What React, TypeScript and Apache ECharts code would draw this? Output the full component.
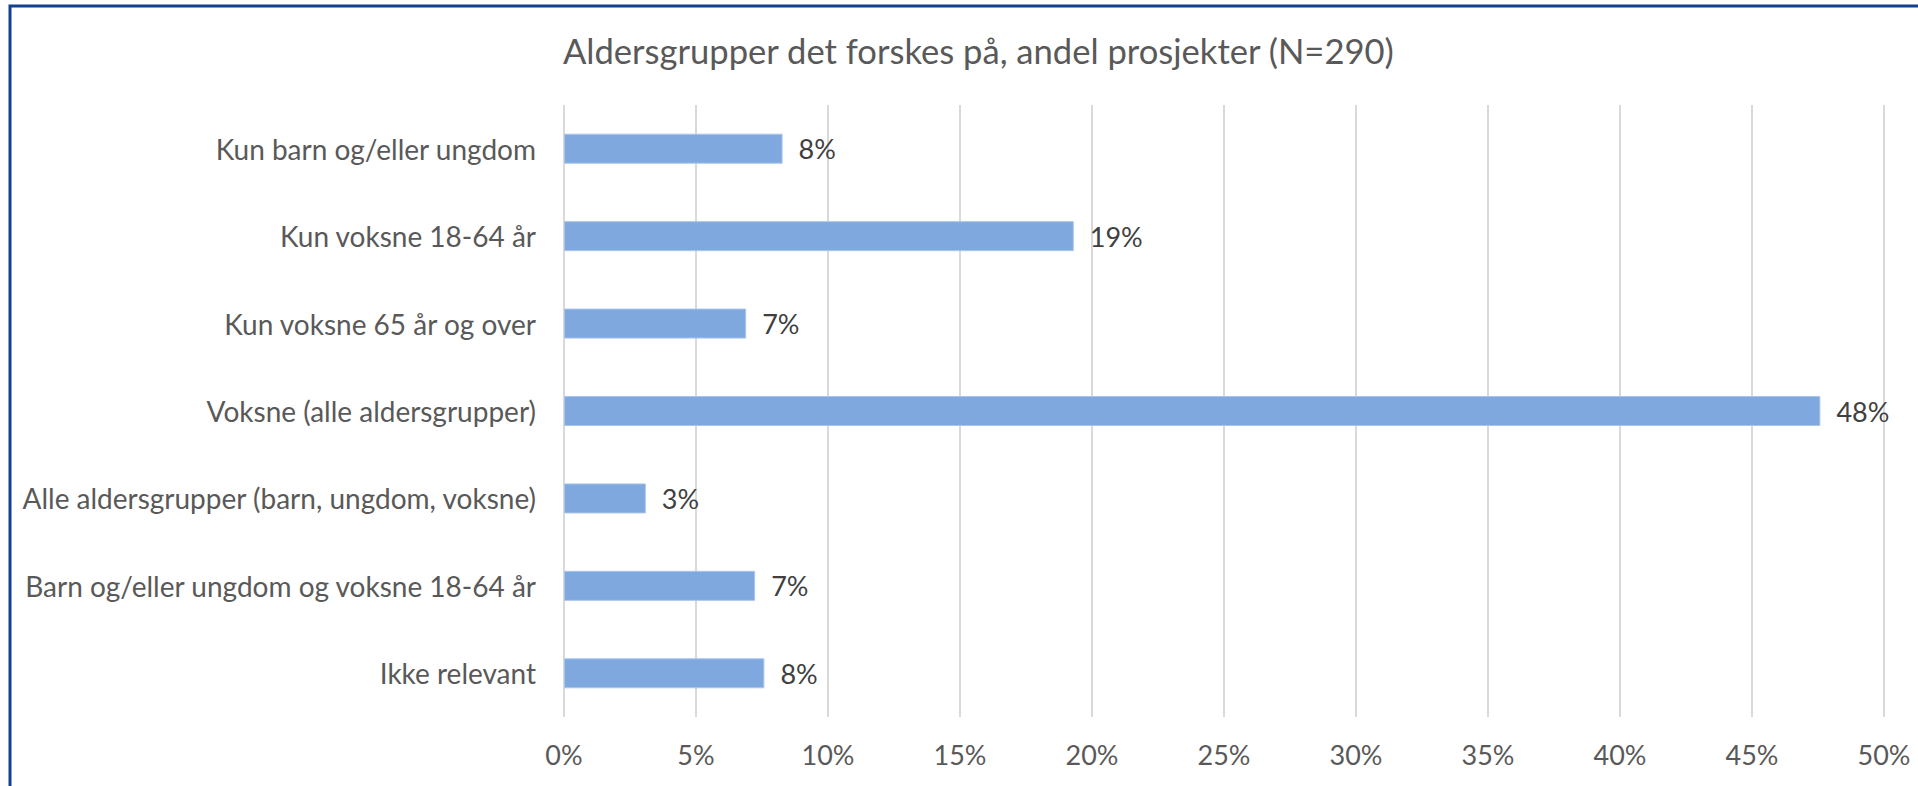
import React, { useEffect, useRef } from "react";
import * as echarts from "echarts";

const titleText = "Aldersgrupper det forskes på, andel prosjekter (N=290)";
const categories = [
  "Kun barn og/eller ungdom",
  "Kun voksne 18-64 år",
  "Kun voksne 65 år og over",
  "Voksne (alle aldersgrupper)",
  "Alle aldersgrupper (barn, ungdom, voksne)",
  "Barn og/eller ungdom og voksne 18-64 år",
  "Ikke relevant",
];
const values = [8.28, 19.31, 6.9, 47.59, 3.1, 7.24, 7.59];
const xTicks = [0, 5, 10, 15, 20, 25, 30, 35, 40, 45, 50];

const FONT = "Lato";

export default function App() {
  const ref = useRef<HTMLDivElement>(null);
  useEffect(() => {
    const chart = echarts.init(ref.current!, null, { renderer: "svg" });
    chart.setOption({
      animation: false,
      backgroundColor: "#ffffff",
      textStyle: { fontFamily: FONT },
      title: {
        text: titleText,
        left: 558,
        top: 28,
        textStyle: { fontFamily: FONT, fontSize: 34.6, fontWeight: "normal", color: "#595959" },
      },
      grid: { left: 564, right: 34, top: 105, bottom: 69, containLabel: false },
      xAxis: {
        type: "value",
        min: xTicks[0],
        max: xTicks[xTicks.length - 1],
        interval: 5,
        axisLine: { show: false },
        axisTick: { show: false },
        splitLine: { lineStyle: { color: "#D9D9D9", width: 2 } },
        axisLabel: {
          formatter: (v: number) => `${v}%`,
          color: "#595959",
          fontSize: 27,
          fontFamily: FONT,
          margin: 24,
        },
      },
      yAxis: {
        type: "category",
        data: categories,
        inverse: true,
        axisLine: { show: false },
        axisTick: { show: false },
        splitLine: { show: false },
        axisLabel: { color: "#595959", fontSize: 28, fontFamily: FONT, margin: 28 },
      },
      series: [
        {
          type: "bar",
          data: values,
          barWidth: 30,
          itemStyle: { color: "#7FA8DF", borderColor: "#A9C5EC", borderWidth: 1 },
          label: {
            show: true,
            position: "right",
            distance: 16,
            color: "#404040",
            fontSize: 27,
            fontFamily: FONT,
            formatter: (p: any) => `${Math.round(p.value)}%`,
          },
        },
      ],
      graphic: [
        {
          type: "rect",
          shape: { x: 10, y: 6, width: 1960, height: 900 },
          style: { fill: "none", stroke: "#15408F", lineWidth: 3 },
          silent: true,
        },
      ],
    });
    return () => chart.dispose();
  }, []);
  return (
    <div
      ref={ref}
      style={{ position: "fixed", left: 0, top: 0, width: 1918, height: 786 }}
    />
  );
}
